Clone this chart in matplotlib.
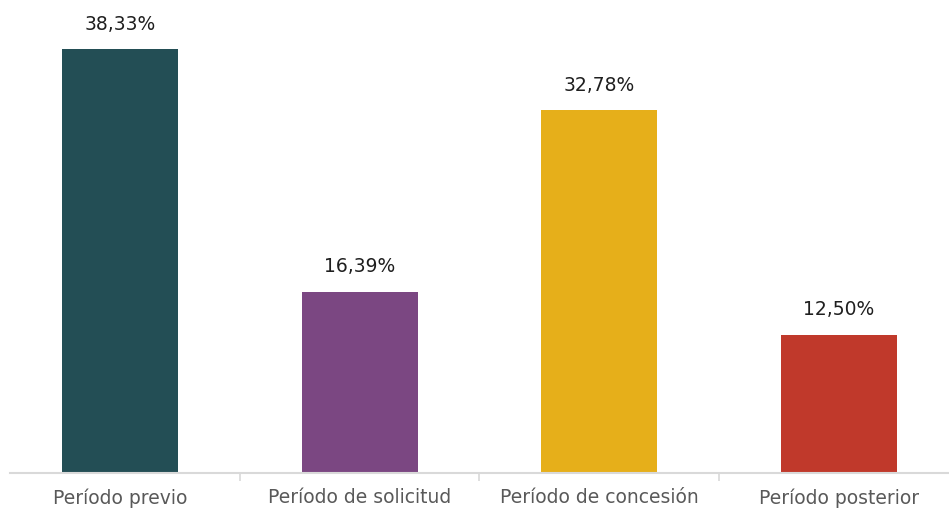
import matplotlib
matplotlib.use("Agg")
import matplotlib.pyplot as plt

categories = ["Período previo", "Período de solicitud", "Período de concesión", "Período posterior"]
values = [38.33, 16.39, 32.78, 12.50]
labels = ["38,33%", "16,39%", "32,78%", "12,50%"]
colors = ["#234E55", "#7B4782", "#E6AF1A", "#C0392B"]

plt.rcParams['font.family'] = ['DejaVu Sans']

fig = plt.figure(figsize=(9.49, 5.09), dpi=100)
ax = fig.add_axes([10/949, 36/509, 939/949, 473/509])
x = list(range(len(categories)))
ax.bar(x, values, width=0.484, color=colors)
for xi, v, lab in zip(x, values, labels):
    ax.annotate(lab, (xi, v), xytext=(0, 11), textcoords="offset points",
                ha="center", va="bottom", fontsize=13.5, color="#1f1f1f")
ax.set_xlim(-0.459, 3.459)
ax.set_ylim(0, 42.77)
ax.set_xticks(x)
ax.set_xticklabels(categories, fontsize=13.5, color="#595959")
ax.set_xticks([0.5, 1.5, 2.5], minor=True)
ax.tick_params(axis="x", which="major", length=0, pad=11)
ax.tick_params(axis="x", which="minor", length=6, color="#d9d9d9", width=1.2)
ax.set_yticks([])
for s in ["top", "right", "left"]:
    ax.spines[s].set_visible(False)
ax.spines["bottom"].set_color("#d9d9d9")
ax.spines["bottom"].set_linewidth(1.5)
fig.savefig("out.png", dpi=100)
